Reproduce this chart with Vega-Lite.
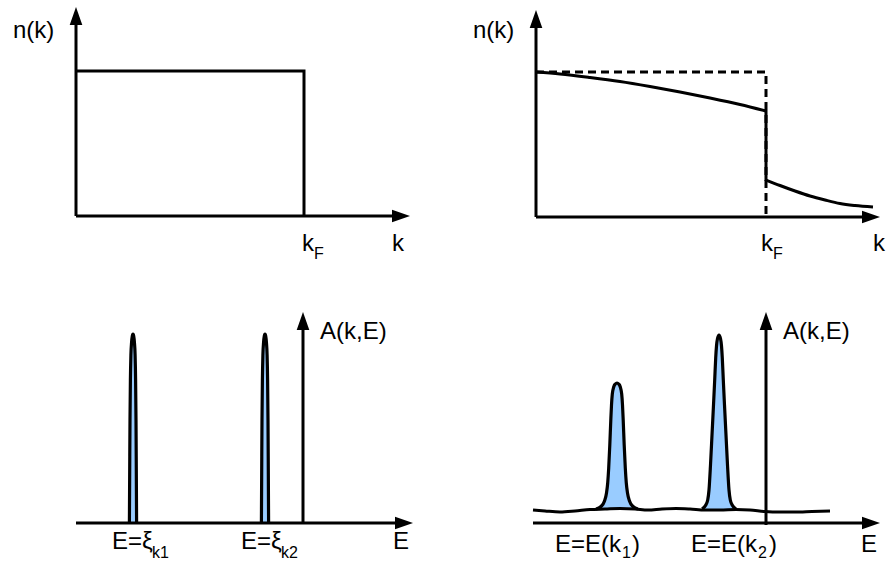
{
  "$schema": "https://vega.github.io/schema/vega-lite/v6.json",
  "width": 886,
  "height": 563,
  "autosize": {"type": "fit", "contains": "padding"},
  "padding": 0,
  "background": "white",
  "view": {"stroke": null},
  "config": {"text": {"font": "Liberation Sans"}},
  "datasets": {
    "axes": [
      {"x": 76, "y": 216, "x2": 76, "y2": 20},
      {"x": 76, "y": 216, "x2": 398, "y2": 216},
      {"x": 536, "y": 217, "x2": 536, "y2": 23},
      {"x": 536, "y": 217, "x2": 868, "y2": 217},
      {"x": 76, "y": 523, "x2": 401, "y2": 523},
      {"x": 303, "y": 523, "x2": 303, "y2": 325},
      {"x": 533, "y": 523, "x2": 868, "y2": 523},
      {"x": 766, "y": 525, "x2": 766, "y2": 325}
    ],
    "upTips": [
      {"x": 76, "y": 7}, {"x": 536, "y": 10}, {"x": 303, "y": 312}, {"x": 766, "y": 312}
    ],
    "rightTips": [
      {"x": 410, "y": 216}, {"x": 880, "y": 217}, {"x": 413, "y": 523}, {"x": 880, "y": 523}
    ],
    "poly": [
      {"s": "rect", "i": 0, "x": 76, "y": 71},
      {"s": "rect", "i": 1, "x": 304, "y": 71},
      {"s": "rect", "i": 2, "x": 304, "y": 216},
      {"s": "drop", "i": 0, "x": 766, "y": 110},
      {"s": "drop", "i": 1, "x": 766, "y": 181}
    ],
    "dashed": [
      {"i": 0, "x": 536, "y": 72},
      {"i": 1, "x": 766, "y": 72},
      {"i": 2, "x": 766, "y": 217}
    ],
    "curves": [
      {"s": "a", "x": 536, "y": 72},
      {"s": "a", "x": 560, "y": 74},
      {"s": "a", "x": 590, "y": 77.5},
      {"s": "a", "x": 620, "y": 81.5},
      {"s": "a", "x": 650, "y": 86.5},
      {"s": "a", "x": 680, "y": 92},
      {"s": "a", "x": 710, "y": 98},
      {"s": "a", "x": 740, "y": 104.5},
      {"s": "a", "x": 766, "y": 111},
      {"s": "b", "x": 766, "y": 180},
      {"s": "b", "x": 780, "y": 185.5},
      {"s": "b", "x": 795, "y": 191},
      {"s": "b", "x": 810, "y": 196},
      {"s": "b", "x": 825, "y": 200},
      {"s": "b", "x": 840, "y": 203.5},
      {"s": "b", "x": 855, "y": 205.5},
      {"s": "b", "x": 873, "y": 207},
      {"s": "w", "x": 533, "y": 510},
      {"s": "w", "x": 545, "y": 511},
      {"s": "w", "x": 560, "y": 512},
      {"s": "w", "x": 575, "y": 511},
      {"s": "w", "x": 590, "y": 509.5},
      {"s": "w", "x": 605, "y": 509},
      {"s": "w", "x": 620, "y": 508.5},
      {"s": "w", "x": 635, "y": 509},
      {"s": "w", "x": 648, "y": 510},
      {"s": "w", "x": 662, "y": 509},
      {"s": "w", "x": 676, "y": 508.5},
      {"s": "w", "x": 690, "y": 509},
      {"s": "w", "x": 705, "y": 510},
      {"s": "w", "x": 720, "y": 510},
      {"s": "w", "x": 736, "y": 509.5},
      {"s": "w", "x": 750, "y": 510},
      {"s": "w", "x": 765, "y": 511.5},
      {"s": "w", "x": 780, "y": 512},
      {"s": "w", "x": 795, "y": 512},
      {"s": "w", "x": 812, "y": 511.5},
      {"s": "w", "x": 830, "y": 511}
    ],
    "peaksLeft": [
      {"s": "p1", "x": 129.4, "y": 523},
      {"s": "p1", "x": 129.7, "y": 470},
      {"s": "p1", "x": 130, "y": 420},
      {"s": "p1", "x": 130.4, "y": 380},
      {"s": "p1", "x": 130.9, "y": 355},
      {"s": "p1", "x": 131.6, "y": 342},
      {"s": "p1", "x": 132.3, "y": 336},
      {"s": "p1", "x": 133, "y": 334},
      {"s": "p1", "x": 133.7, "y": 336},
      {"s": "p1", "x": 134.4, "y": 342},
      {"s": "p1", "x": 135.1, "y": 355},
      {"s": "p1", "x": 135.6, "y": 380},
      {"s": "p1", "x": 136, "y": 420},
      {"s": "p1", "x": 136.3, "y": 470},
      {"s": "p1", "x": 136.6, "y": 523},
      {"s": "p2", "x": 261.4, "y": 523},
      {"s": "p2", "x": 261.7, "y": 470},
      {"s": "p2", "x": 262, "y": 420},
      {"s": "p2", "x": 262.4, "y": 380},
      {"s": "p2", "x": 262.9, "y": 355},
      {"s": "p2", "x": 263.6, "y": 342},
      {"s": "p2", "x": 264.3, "y": 336},
      {"s": "p2", "x": 265, "y": 334},
      {"s": "p2", "x": 265.7, "y": 336},
      {"s": "p2", "x": 266.4, "y": 342},
      {"s": "p2", "x": 267.1, "y": 355},
      {"s": "p2", "x": 267.6, "y": 380},
      {"s": "p2", "x": 268, "y": 420},
      {"s": "p2", "x": 268.3, "y": 470},
      {"s": "p2", "x": 268.6, "y": 523}
    ],
    "peaksRight": [
      {"s": "q1", "x": 596, "y": 509},
      {"s": "q1", "x": 601, "y": 506.5},
      {"s": "q1", "x": 604.5, "y": 501},
      {"s": "q1", "x": 606.5, "y": 493},
      {"s": "q1", "x": 607.7, "y": 483},
      {"s": "q1", "x": 608.7, "y": 468},
      {"s": "q1", "x": 609.8, "y": 445},
      {"s": "q1", "x": 610.8, "y": 420},
      {"s": "q1", "x": 611.5, "y": 405},
      {"s": "q1", "x": 612.3, "y": 394},
      {"s": "q1", "x": 613.7, "y": 387},
      {"s": "q1", "x": 615.3, "y": 384},
      {"s": "q1", "x": 617, "y": 383},
      {"s": "q1", "x": 618.7, "y": 384},
      {"s": "q1", "x": 620.3, "y": 387},
      {"s": "q1", "x": 621.7, "y": 394},
      {"s": "q1", "x": 622.5, "y": 405},
      {"s": "q1", "x": 623.2, "y": 420},
      {"s": "q1", "x": 624.2, "y": 445},
      {"s": "q1", "x": 625.3, "y": 468},
      {"s": "q1", "x": 626.3, "y": 483},
      {"s": "q1", "x": 627.5, "y": 493},
      {"s": "q1", "x": 629.5, "y": 501},
      {"s": "q1", "x": 633, "y": 506.5},
      {"s": "q1", "x": 638, "y": 509},
      {"s": "q2", "x": 702, "y": 509},
      {"s": "q2", "x": 705.5, "y": 505.5},
      {"s": "q2", "x": 707.7, "y": 500},
      {"s": "q2", "x": 709, "y": 490},
      {"s": "q2", "x": 710.5, "y": 465},
      {"s": "q2", "x": 712, "y": 435},
      {"s": "q2", "x": 713.5, "y": 405},
      {"s": "q2", "x": 714.7, "y": 380},
      {"s": "q2", "x": 715.7, "y": 358},
      {"s": "q2", "x": 716.5, "y": 346},
      {"s": "q2", "x": 717.5, "y": 338.5},
      {"s": "q2", "x": 719, "y": 335},
      {"s": "q2", "x": 720.5, "y": 338.5},
      {"s": "q2", "x": 721.5, "y": 346},
      {"s": "q2", "x": 722.3, "y": 358},
      {"s": "q2", "x": 723.3, "y": 380},
      {"s": "q2", "x": 724.5, "y": 405},
      {"s": "q2", "x": 726, "y": 435},
      {"s": "q2", "x": 727.5, "y": 465},
      {"s": "q2", "x": 729, "y": 490},
      {"s": "q2", "x": 730.3, "y": 500},
      {"s": "q2", "x": 732.5, "y": 505.5},
      {"s": "q2", "x": 736, "y": 509}
    ],
    "labels": [
      {"t": "n(k)", "x": 13, "y": 38},
      {"t": "k", "x": 302, "y": 251},
      {"t": "k", "x": 392, "y": 251},
      {"t": "n(k)", "x": 473, "y": 38},
      {"t": "k", "x": 761, "y": 251},
      {"t": "k", "x": 873, "y": 251},
      {"t": "A(k,E)", "x": 320, "y": 339},
      {"t": "E=ξ", "x": 112, "y": 549},
      {"t": "E=ξ", "x": 241, "y": 549},
      {"t": "E", "x": 393, "y": 549},
      {"t": "A(k,E)", "x": 783, "y": 339},
      {"t": "E=E(k", "x": 555, "y": 552},
      {"t": ")", "x": 632, "y": 552},
      {"t": "E=E(k", "x": 691, "y": 552},
      {"t": ")", "x": 769, "y": 552},
      {"t": "E", "x": 861, "y": 552}
    ],
    "subs": [
      {"t": "F", "x": 314, "y": 259},
      {"t": "F", "x": 773, "y": 259},
      {"t": "k1", "x": 152, "y": 558},
      {"t": "k2", "x": 281, "y": 558},
      {"t": "1", "x": 622, "y": 558},
      {"t": "2", "x": 758, "y": 558}
    ]
  },
  "encoding": {
    "x": {"field": "x", "type": "quantitative", "scale": {"domain": [0, 886], "nice": false, "zero": false}, "axis": null},
    "y": {"field": "y", "type": "quantitative", "scale": {"domain": [0, 563], "nice": false, "zero": false, "reverse": true}, "axis": null}
  },
  "layer": [
    {
      "data": {"name": "peaksLeft"},
      "mark": {"type": "area", "interpolate": "monotone", "color": "#99ccff", "opacity": 1},
      "encoding": {"detail": {"field": "s"}, "y2": {"datum": 523}}
    },
    {
      "data": {"name": "peaksRight"},
      "mark": {"type": "area", "interpolate": "monotone", "color": "#99ccff", "opacity": 1},
      "encoding": {"detail": {"field": "s"}, "y2": {"datum": 510}}
    },
    {
      "data": {"name": "curves"},
      "mark": {"type": "line", "interpolate": "monotone", "color": "black", "strokeWidth": 3},
      "encoding": {"detail": {"field": "s"}}
    },
    {
      "data": {"name": "peaksLeft"},
      "mark": {"type": "line", "interpolate": "monotone", "color": "black", "strokeWidth": 3.2},
      "encoding": {"detail": {"field": "s"}}
    },
    {
      "data": {"name": "peaksRight"},
      "mark": {"type": "line", "interpolate": "monotone", "color": "black", "strokeWidth": 3.2},
      "encoding": {"detail": {"field": "s"}}
    },
    {
      "data": {"name": "dashed"},
      "mark": {"type": "line", "color": "black", "strokeWidth": 3, "strokeDash": [8, 5]},
      "encoding": {"order": {"field": "i"}}
    },
    {
      "data": {"name": "poly"},
      "mark": {"type": "line", "color": "black", "strokeWidth": 3},
      "encoding": {"detail": {"field": "s"}, "order": {"field": "i"}}
    },
    {
      "data": {"name": "axes"},
      "mark": {"type": "rule", "color": "black", "strokeWidth": 3},
      "encoding": {"x2": {"field": "x2"}, "y2": {"field": "y2"}}
    },
    {
      "data": {"name": "upTips"},
      "mark": {"type": "point", "shape": "M0,0 L0.7,2 L-0.7,2 Z", "filled": true, "color": "black", "opacity": 1, "size": 324, "strokeWidth": 0}
    },
    {
      "data": {"name": "rightTips"},
      "mark": {"type": "point", "shape": "M0,0 L-2,-0.7 L-2,0.7 Z", "filled": true, "color": "black", "opacity": 1, "size": 324, "strokeWidth": 0}
    },
    {
      "data": {"name": "labels"},
      "mark": {"type": "text", "align": "left", "baseline": "alphabetic", "fontSize": 24, "color": "black"},
      "encoding": {"text": {"field": "t"}}
    },
    {
      "data": {"name": "subs"},
      "mark": {"type": "text", "align": "left", "baseline": "alphabetic", "fontSize": 16, "color": "black"},
      "encoding": {"text": {"field": "t"}}
    }
  ]
}
